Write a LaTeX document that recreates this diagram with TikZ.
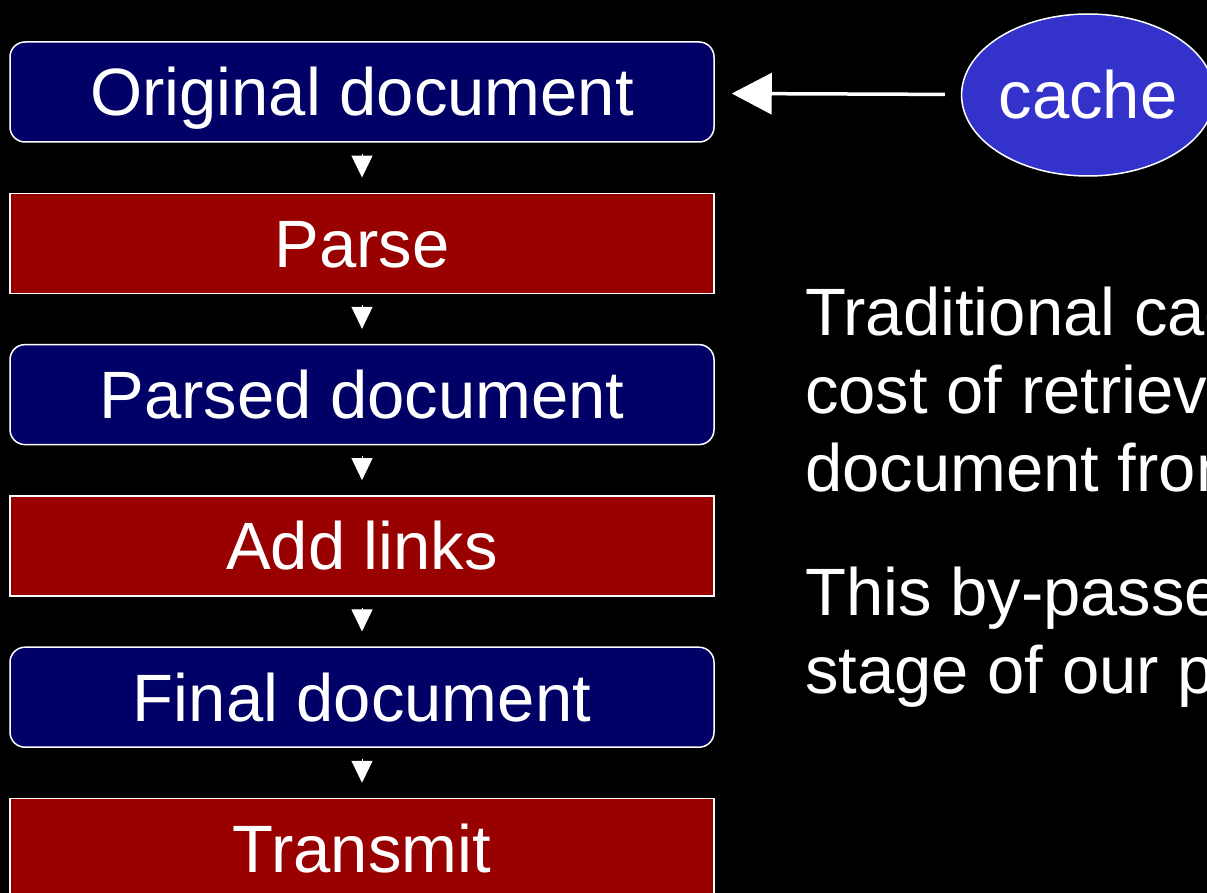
\documentclass[tikz,border=0pt]{standalone}
\usepackage{fontspec}
\setmainfont{Liberation Sans}
\usetikzlibrary{positioning,shapes.geometric,arrows.meta}
\definecolor{navy}{RGB}{0,0,102}
\definecolor{darkred}{RGB}{153,0,0}
\definecolor{cacheblue}{RGB}{51,51,204}

\begin{document}
\begin{tikzpicture}[x=1pt,y=-1pt,node distance=49.8pt,
      docbox/.style={rectangle,rounded corners=15pt,fill=navy,draw=white,line width=1.5pt,
        minimum width=704pt,minimum height=100pt,text=white,text height=48pt,text depth=0pt},
      stepbox/.style={rectangle,fill=darkred,draw=white,line width=1.5pt,
        minimum width=704pt,minimum height=100pt,text=white,text height=48pt,text depth=0pt},
      cachenode/.style={ellipse,fill=cacheblue,draw=white,line width=1.5pt,inner sep=0pt,
        minimum width=248pt,minimum height=162pt,text=white,text height=48pt,text depth=0pt},
      note/.style={text=white,align=left,inner sep=0pt},
      arr/.style={white,line width=1pt,-{Triangle[width=21pt,length=22pt]},shorten <=11pt,shorten >=15pt},
      bigarr/.style={white,line width=3.5pt,-{Triangle[width=41pt,length=40pt]},shorten <=16pt,shorten >=17pt}
      ]
      \useasboundingbox (0,0) rectangle (1207,893);
      \fill[black] (0,0) rectangle (1207,893);
      \clip (0,0) rectangle (1207,893);
      \fontsize{67}{78}\selectfont
      \node (orig) [docbox] at (362,92) {Original document};
      \node (parse) [stepbox,below=of orig] {Parse};
      \draw[arr] (orig) -- (parse);
      \node (parsed) [docbox,below=of parse] {Parsed document};
      \draw[arr] (parse) -- (parsed);
      \node (links) [stepbox,below=of parsed] {Add links};
      \draw[arr] (parsed) -- (links);
      \node (final) [docbox,below=of links] {Final document};
      \draw[arr] (links) -- (final);
      \node (transmit) [stepbox,below=of final] {Transmit};
      \draw[arr] (final) -- (transmit);
      \node (cache) [cachenode] at (1088,95) {cache};
      \draw[bigarr] (cache) -- (orig);
      \node (trad) [note,anchor=base west] at (805,491) {Traditional cac\\cost of retriev\\document from};
      \node (bypass) [note,anchor=base west] at (805,693) {This by-passe\\stage of our p};
    \end{tikzpicture}
\end{document}
